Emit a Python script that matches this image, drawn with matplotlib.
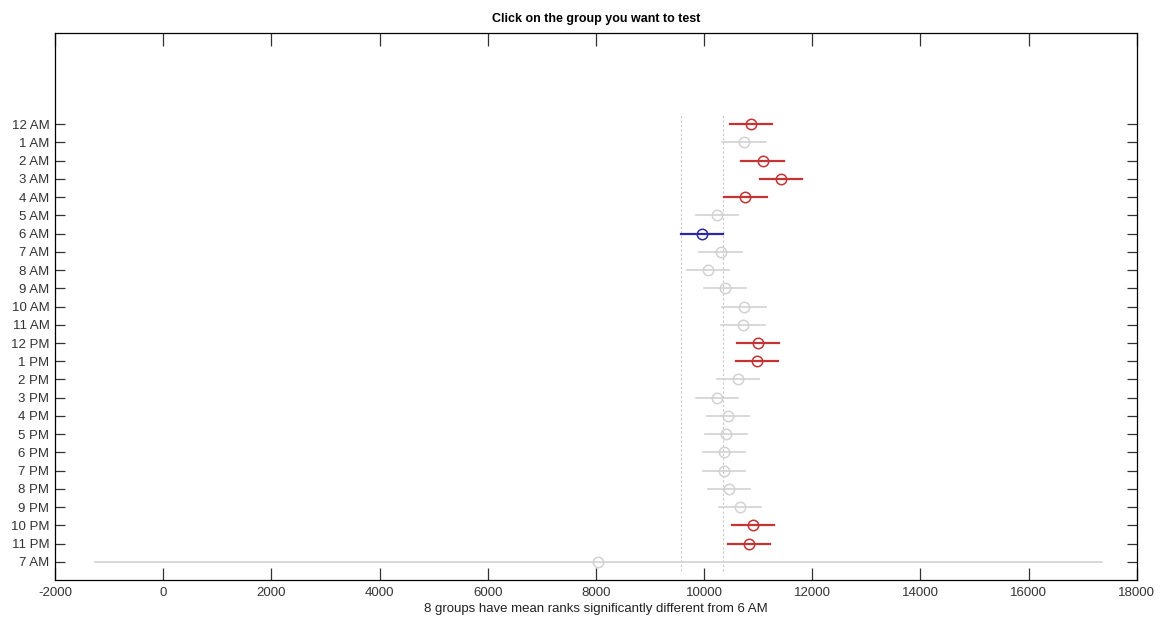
import matplotlib
matplotlib.use('Agg')
import matplotlib.pyplot as plt
import numpy as np

# groups from top to bottom
groups = ['12 AM', '1 AM', '2 AM', '3 AM', '4 AM', '5 AM', '6 AM', '7 AM', '8 AM',
          '9 AM', '10 AM', '11 AM', '12 PM', '1 PM', '2 PM', '3 PM', '4 PM', '5 PM',
          '6 PM', '7 PM', '8 PM', '9 PM', '10 PM', '11 PM', '7 AM']
mean_ranks = [10870, 10745, 11080, 11425, 10765, 10235, 9965, 10305, 10065,
              10390, 10735, 10715, 10990, 10975, 10630, 10245, 10440, 10400,
              10370, 10365, 10455, 10670, 10905, 10825, 8045]
half_width = [390, 405, 390, 390, 390, 390, 385, 390, 390,
              390, 405, 405, 390, 390, 390, 390, 390, 390,
              390, 390, 390, 390, 390, 390, 9310]
# 0 = not different, 1 = significantly different, 2 = selected group
status = [1, 0, 1, 1, 1, 0, 2, 0, 0,
          0, 0, 0, 1, 1, 0, 0, 0, 0,
          0, 0, 0, 0, 1, 1, 0]

colors = {0: '#d2d2d2', 1: '#c43434', 2: '#2a2a9c'}
widths = {0: 1.2, 1: 1.6, 2: 1.6}

plt.rcParams['font.family'] = ['Liberation Sans', 'DejaVu Sans']
plt.rcParams['axes.unicode_minus'] = False

fig = plt.figure(figsize=(11.69, 6.24), dpi=100)
ax = fig.add_axes([0.047, 0.0705, 0.9255, 0.8765])

n = len(groups)
ypos = np.arange(n, 0, -1)
for y, m, h, s in zip(ypos, mean_ranks, half_width, status):
    c = colors[s]
    ax.plot([m - h, m + h], [y, y], color=c, lw=widths[s], zorder=2)
    ax.plot(m, y, 'o', mfc='none', mec=c, ms=7.5, mew=1.1, zorder=3)

# dotted reference lines at the selected group's interval
sel = status.index(2)
for xv in [mean_ranks[sel] - half_width[sel], mean_ranks[sel] + half_width[sel]]:
    ax.plot([xv, xv], [0.5, n + 0.5], color='#c8c8c8', lw=0.8, ls=(0, (2, 2)), zorder=1)

ax.set_xlim(-2000, 18000)
ax.set_ylim(0, 30)
ax.set_xticks(np.arange(-2000, 18001, 2000))
ax.set_yticks(ypos)
ax.set_yticklabels(groups)
ax.tick_params(direction='in', top=True, right=True, length=9, width=0.9,
               labelsize=9.5, colors='#333333', pad=5)
ax.tick_params(axis='y', length=7, pad=4)
for sp in ax.spines.values():
    sp.set_linewidth(0.9)

ax.set_title('Click on the group you want to test', fontsize=9, fontweight='bold', pad=8)
ax.set_xlabel('8 groups have mean ranks significantly different from 6 AM', fontsize=9.5,
              labelpad=3, color='#222222')

fig.savefig('out.png', dpi=100)
